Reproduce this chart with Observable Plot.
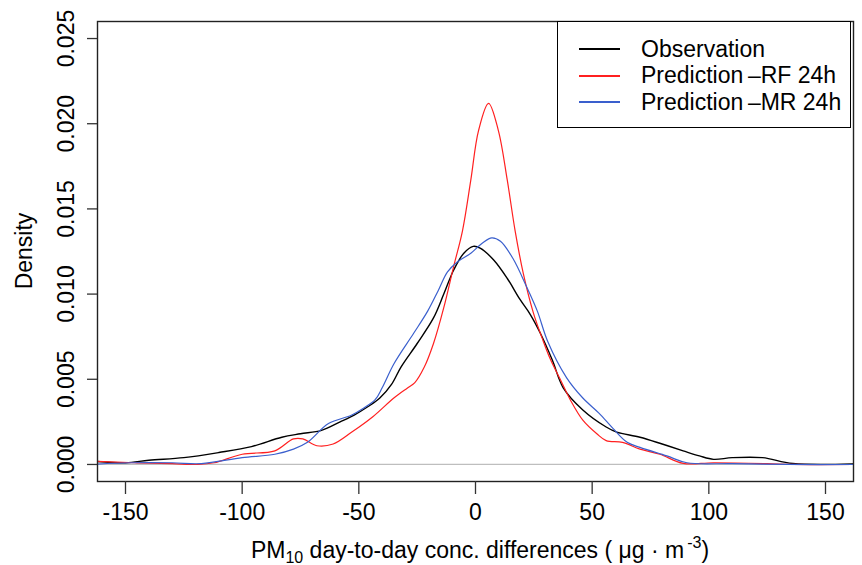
<!DOCTYPE html>
<html><head><meta charset="utf-8">
<script src="https://cdn.jsdelivr.net/npm/d3@7"></script>
<script src="https://cdn.jsdelivr.net/npm/@observablehq/plot@0.6"></script>
<style>
body{margin:0;background:#fff;}
#wrap{position:relative;width:862px;height:565px;font-family:"Liberation Sans",Arial,sans-serif;}
#legend{position:absolute;left:557px;top:21px;width:294px;height:107px;border:1.4px solid #000;background:#fff;padding-top:14px;box-sizing:border-box;}
.row{display:flex;align-items:center;height:26.5px;font-size:23px;color:#000;}
.sw{width:41px;height:2.2px;margin-left:21px;margin-right:21px;}
</style></head><body>
<div id="wrap"></div>
<script>
// Observation
const obsX = [-165,-150,-140,-125,-110,-96,-83,-75,-66,-58,-52,-46,-41,-36,-32,-25,-18,-13.6,-9.4,-5,-1,2,7.8,13.7,19,23.5,27.8,33,37.6,46,56,60.5,70.5,80,89,96,102,110,123,136,165];
const obsY = [0.0002,0.0001,0.00025,0.0004,0.0007,0.00105,0.0016,0.0018,0.002,0.0025,0.0029,0.0034,0.0039,0.0047,0.0057,0.0071,0.0086,0.0100,0.0114,0.0124,0.0128,0.0127,0.0120,0.0109,0.0097,0.0088,0.0077,0.0061,0.0045,0.0032,0.0022,0.0019,0.0016,0.0012,0.0008,0.0005,0.0003,0.0004,0.0004,0.00006,0.00005];
// Prediction RF 24h
const rfX = [-165,-146,-130,-119,-112,-100,-86,-78,-74,-68,-61,-53,-44,-35,-29,-26,-22,-18,-13.6,-9.4,-5.6,-2,1.3,5.6,9.8,13.6,17,20.5,24.8,28.6,32,36.3,40.6,46,52,56,63,70.5,79,89,102,125,136,165];
const rfY = [0.0002,0.0001,0.00005,0.0,0.0001,0.0006,0.0008,0.0015,0.0015,0.0011,0.0012,0.0019,0.0028,0.0039,0.0045,0.0048,0.0057,0.0071,0.0092,0.0116,0.0137,0.0167,0.0196,0.0212,0.0196,0.0167,0.0137,0.0112,0.0089,0.0074,0.0062,0.0050,0.0038,0.0026,0.0018,0.0014,0.0013,0.0009,0.0006,0.00006,0.0001,0.00005,0.0,0.0];
// Prediction MR 24h
const mrX = [-165,-148,-130,-117.5,-100,-86,-78,-72,-63,-53,-48,-43,-40,-35,-26.5,-20.5,-16,-12,-7.7,-2,3,7,10.7,16,22,26.5,31,39,46,53,59,65,70.5,82,90.6,110,134,165];
const mrY = [0.0,0.0001,0.0001,0.00005,0.0004,0.0006,0.0009,0.0013,0.0024,0.0029,0.0033,0.0038,0.0045,0.0059,0.0077,0.0090,0.0102,0.0113,0.0119,0.0124,0.0130,0.0133,0.0131,0.0121,0.0104,0.0090,0.0072,0.0051,0.0039,0.0030,0.0021,0.0013,0.0010,0.0005,0.0001,0.00005,0.0,0.0];

const seriesNames = ["Observation","Prediction\u2009\u2013RF 24h","Prediction\u2009\u2013MR 24h"];
const seriesColors = ["#000000","#ff2020","#3a5fcd"];
const xTicks = [-150,-100,-50,0,50,100,150];
const yTicks = [0,0.005,0.010,0.015,0.020,0.025];

const toRows = (xs, ys) => xs.map((x,i)=>({x, y: ys[i]}));
const obs = toRows(obsX, obsY), rf = toRows(rfX, rfY), mr = toRows(mrX, mrY);

const W=862,H=565,mL=97,mR=9,mT=21,mB=84;
const font = '"Liberation Sans", Arial, sans-serif';

const chart = Plot.plot({
  width:W, height:H, marginLeft:mL, marginRight:mR, marginTop:mT, marginBottom:mB,
  x:{domain:[-162,162], label:null},
  y:{domain:[-0.001,0.026], label:null},
  style:{fontSize:"23px", fontFamily:font, color:"#000", background:"#fff", overflow:"visible"},
  marks:[
    Plot.ruleY([0], {stroke:"#bebebe", strokeWidth:1.3}),
    Plot.line(obs, {x:"x", y:"y", stroke:seriesColors[0], strokeWidth:1.4, curve:"catmull-rom", clip:true}),
    Plot.line(rf, {x:"x", y:"y", stroke:seriesColors[1], strokeWidth:1.2, curve:"catmull-rom", clip:true}),
    Plot.line(mr, {x:"x", y:"y", stroke:seriesColors[2], strokeWidth:1.2, curve:"catmull-rom", clip:true}),
    Plot.frame({stroke:"#222", strokeWidth:1.4}),
    Plot.axisX(xTicks, {tickSize:13, tickPadding:9, tickFormat:d=>String(d), stroke:"#333", strokeWidth:1.3, label:null}),
    Plot.axisY(yTicks, {tickSize:10, tickPadding:14, tickRotate:-90, tickFormat:d=>d.toFixed(3), stroke:"#333", strokeWidth:1.3, label:null})
  ]
});

const wrap = document.getElementById("wrap");
wrap.appendChild(chart);

const svg = d3.select(chart);
// x-axis title with subscript / superscript
const xt = svg.append("text")
  .attr("x", (mL + (W - mR)) / 2 + 5).attr("y", H - 7)
  .attr("text-anchor","middle").attr("font-size",23).attr("fill","#000");
xt.append("tspan").text("PM");
xt.append("tspan").attr("font-size",16).attr("dy",5).text("10");
xt.append("tspan").attr("dy",-5).text(" day-to-day conc. differences ( \u03bcg \u00b7 m");
xt.append("tspan").attr("font-size",16).attr("dy",-10).attr("dx",3).text("-3");
xt.append("tspan").attr("dy",10).text(")");
// y-axis title
svg.append("text")
  .attr("transform", `translate(32,${(mT + H - mB)/2}) rotate(-90)`)
  .attr("text-anchor","middle").attr("font-size",23).attr("fill","#000")
  .text("Density");

// legend
const lg = document.createElement("div");
lg.id = "legend";
seriesNames.forEach((n,i)=>{
  const r = document.createElement("div");
  r.className = "row";
  const s = document.createElement("span");
  s.className = "sw"; s.style.background = seriesColors[i];
  const t = document.createElement("span");
  t.textContent = n;
  r.appendChild(s); r.appendChild(t);
  lg.appendChild(r);
});
wrap.appendChild(lg);
</script>
</body></html>
